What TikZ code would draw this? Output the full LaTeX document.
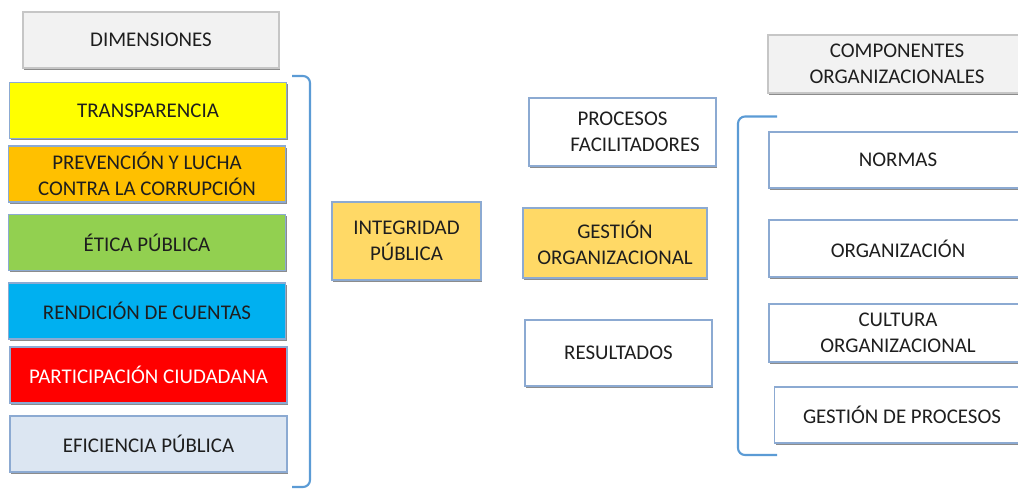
\documentclass[tikz,border=0pt]{standalone}
\usepackage{fontspec}
\setmainfont{Carlito}
\usetikzlibrary{shadows}
\definecolor{boxline}{RGB}{140,170,210}
\definecolor{brack}{RGB}{91,155,213}
\definecolor{txt}{RGB}{30,30,30}
\definecolor{cyellow}{RGB}{255,255,0}
\definecolor{corange}{RGB}{255,192,0}
\definecolor{cgreen}{RGB}{146,208,80}
\definecolor{ccyan}{RGB}{0,176,240}
\definecolor{cred}{RGB}{255,0,0}
\definecolor{cpale}{RGB}{220,230,242}
\definecolor{cgold}{RGB}{255,217,102}
\definecolor{chead}{RGB}{242,242,242}

\begin{document}
\begin{tikzpicture}[
	box/.style={draw=boxline,line width=0.6pt,align=center,text=txt,inner sep=0pt,
		font=\fontsize{11.9}{14.8}\selectfont,
		drop shadow={shadow xshift=0.7pt,shadow yshift=-0.9pt,opacity=0.45,fill=black}},
	dimbox/.style={box,minimum width=5.54cm,minimum height=1.12cm},
	headbox/.style={box,fill=chead,draw=gray!45},
	bracket/.style={draw=brack,line width=1.2pt,rounded corners=4pt}]
	\useasboundingbox (0,0) rectangle (20.36,-9.78);
	\clip (0,0) rectangle (20.36,-9.78);

	%LEFT COLUMN
	\node[headbox,minimum width=5.12cm,minimum height=1.12cm] (dim) at (3.02,-0.80) {DIMENSIONES};
	\node[dimbox,fill=cyellow] (transp) at (2.96,-2.21) {TRANSPARENCIA};
	\node[dimbox,fill=corange] (prev) at (2.94,-3.48) {PREVENCIÓN Y LUCHA\\CONTRA LA CORRUPCIÓN};
	\node[dimbox,fill=cgreen] (etica) at (2.94,-4.85) {ÉTICA PÚBLICA};
	\node[dimbox,fill=ccyan] (rend) at (2.94,-6.22) {RENDICIÓN DE CUENTAS};
	\node[dimbox,fill=cred,text=white] (partic) at (2.97,-7.50) {PARTICIPACIÓN CIUDADANA};
	\node[dimbox,fill=cpale] (efic) at (2.97,-8.88) {EFICIENCIA PÚBLICA};
	\draw[bracket] (5.84,-1.52) -- (6.20,-1.52) -- (6.20,-9.74) -- (5.84,-9.74);

	%MIDDLE
	\node[box,fill=cgold,minimum width=2.98cm,minimum height=1.56cm] (integ) at (8.13,-4.82) {INTEGRIDAD\\PÚBLICA};
	\node[box,fill=white,minimum width=3.74cm,minimum height=1.36cm] (procfac) at (12.45,-2.64) {PROCESOS\\\hspace*{1.2em}FACILITADORES};
	\node[box,fill=cgold,minimum width=3.68cm,minimum height=1.40cm] (gestorg) at (12.30,-4.86) {GESTIÓN\\ORGANIZACIONAL};
	\node[box,fill=white,minimum width=3.74cm,minimum height=1.32cm] (result) at (12.37,-7.06) {RESULTADOS};

	%RIGHT COLUMN
	\node[headbox,minimum width=5.16cm,minimum height=1.16cm] (comp) at (17.94,-1.28) {COMPONENTES\\ORGANIZACIONALES};
	\draw[bracket] (15.54,-2.33) -- (14.76,-2.33) -- (14.76,-9.10) -- (15.54,-9.10);
	\node[box,fill=white,minimum width=5.16cm,minimum height=1.12cm] (normas) at (17.96,-3.20) {NORMAS};
	\node[box,fill=white,minimum width=5.16cm,minimum height=1.14cm] (organiz) at (17.96,-4.97) {ORGANIZACIÓN};
	\node[box,fill=white,minimum width=5.16cm,minimum height=1.16cm] (cultura) at (17.96,-6.66) {CULTURA\\ORGANIZACIONAL};
	\node[box,fill=white,minimum width=5.10cm,minimum height=1.12cm] (gestproc) at (18.04,-8.30) {GESTIÓN DE PROCESOS};
\end{tikzpicture}
\end{document}
